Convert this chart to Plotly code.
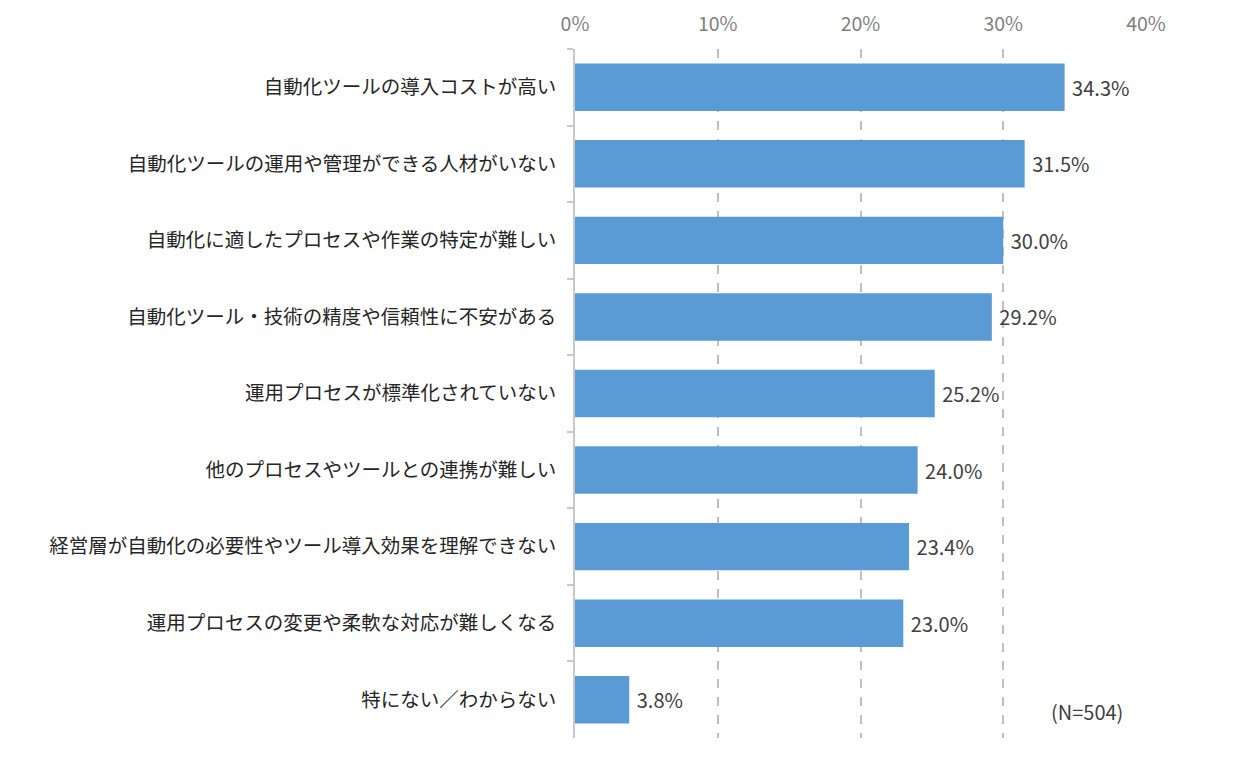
import plotly.graph_objects as go

# categories top to bottom as in the source chart
categories = [
    "自動化ツールの導入コストが高い",
    "自動化ツールの運用や管理ができる人材がいない",
    "自動化に適したプロセスや作業の特定が難しい",
    "自動化ツール・技術の精度や信頼性に不安がある",
    "運用プロセスが標準化されていない",
    "他のプロセスやツールとの連携が難しい",
    "経営層が自動化の必要性やツール導入効果を理解できない",
    "運用プロセスの変更や柔軟な対応が難しくなる",
    "特にない／わからない",
]
values = [34.3, 31.5, 30.0, 29.2, 25.2, 24.0, 23.4, 23.0, 3.8]
tick_vals = [0, 10, 20, 30, 40]
tick_text = ["0%", "10%", "20%", "30%", "40%"]

jp_font = "Noto Sans CJK JP"

fig = go.Figure(go.Bar(
    x=values,
    y=categories,
    orientation="h",
    marker=dict(color="#5B9BD5", line=dict(color="#5B9BD5", width=0)),
    text=[f"\u00a0{v:.1f}%" for v in values],
    textposition="outside",
    textfont=dict(family=jp_font, size=20, color="#404040"),
    cliponaxis=False,
    width=0.62,
))

fig.update_layout(
    width=1240, height=775,
    margin=dict(l=567, r=102, t=41, b=45),
    paper_bgcolor="white", plot_bgcolor="white",
    showlegend=False,
    xaxis=dict(
        side="top", range=[0, 40], tickvals=tick_vals, ticktext=tick_text,
        tickfont=dict(family=jp_font, size=19.5, color="#7f7f7f"),
        showgrid=True, gridcolor="#c0c0c0", griddash="dash", gridwidth=1.5,
        zeroline=False, showline=False, ticks="", ticklabelstandoff=13,
        automargin=False,
    ),
    yaxis=dict(
        autorange="reversed",
        tickfont=dict(family=jp_font, size=19.5, color="#262626"),
        showline=True, linecolor="#c8c8c8", linewidth=1.5,
        ticks="outside", tickson="boundaries", ticklen=6, tickcolor="#c8c8c8",
        tickwidth=1.5, showgrid=False, ticklabelstandoff=13,
        automargin=False,
    ),
    annotations=[dict(
        x=38.5, y=categories[-1], xref="x", yref="y", text="(N=504)",
        showarrow=False, xanchor="right", yshift=-12,
        font=dict(family=jp_font, size=20, color="#404040"),
    )],
)

fig.write_html("out.html")
